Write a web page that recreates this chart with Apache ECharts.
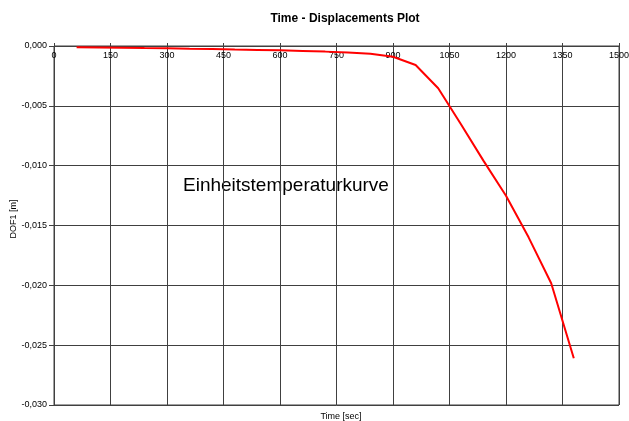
<!DOCTYPE html>
<html>
<head>
<meta charset="utf-8">
<script src="https://cdn.jsdelivr.net/npm/echarts@6/dist/echarts.min.js"></script>
<style>
html,body{margin:0;padding:0;background:#fff;}
#c{width:629px;height:421px;}
</style>
</head>
<body>
<div id="c"></div>
<script>
const times = [60,120,180,240,300,360,420,480,540,600,660,720,780,840,900,960,1020,1080,1140,1200,1260,1320,1380];
const dof1 = [-0.00011,-0.00012,-0.00014,-0.00017,-0.00019,-0.00023,-0.00026,-0.00030,-0.00033,-0.00036,-0.00041,-0.00047,-0.00054,-0.00064,-0.00090,-0.00159,-0.00353,-0.00652,-0.00958,-0.01251,-0.01599,-0.01983,-0.02610];
const titleText = 'Time - Displacements Plot';
const xName = 'Time [sec]';
const yName = 'DOF1 [m]';
const annotation = 'Einheitstemperaturkurve';

const chart = echarts.init(document.getElementById('c'), null, {renderer:'canvas'});
const font = 'Liberation Sans, Arial, sans-serif';
const gridColor = '#404040';
chart.setOption({
  backgroundColor: '#ffffff',
  animation: false,
  title: [
    {text: titleText, left: 340, top: 8, textAlign: 'center',
     textStyle: {fontFamily: font, fontSize: 12, fontWeight: 'bold', color: '#000'}},
    {text: xName, left: 336, top: 407, textAlign: 'center',
     textStyle: {fontFamily: font, fontSize: 9, fontWeight: 'normal', color: '#000'}}
  ],
  graphic: [
    {type: 'text', left: 183, top: 176, z: -10, zlevel: 0,
     style: {text: annotation, fontFamily: font, fontSize: 19, fill: '#000'}},
    {type: 'text', x: 14, y: 219, rotation: Math.PI / 2,
     style: {text: yName, fontFamily: font, fontSize: 9, fill: '#000', align: 'center', verticalAlign: 'middle'}}
  ],
  grid: {left: 54, right: 10, top: 46, bottom: 16, containLabel: false, outerBoundsMode: 'none',
         show: true, borderColor: gridColor, borderWidth: 1, backgroundColor: 'transparent'},
  xAxis: {
    type: 'value', position: 'top', min: 0, max: 1500, interval: 150,
    axisLine: {show: true, lineStyle: {color: gridColor}},
    axisTick: {show: true, inside: false, length: 3, lineStyle: {color: gridColor}},
    axisLabel: {inside: true, margin: 5, fontFamily: font, fontSize: 9, color: '#000',
      formatter: v => String(v)},
    splitLine: {show: true, lineStyle: {color: gridColor, width: 1}}
  },
  yAxis: {
    type: 'value', min: -0.030, max: 0, interval: 0.005,
    axisLine: {show: true, lineStyle: {color: gridColor}},
    axisTick: {show: true, inside: false, length: 5, lineStyle: {color: gridColor}},
    axisLabel: {margin: 7, fontFamily: font, fontSize: 9, color: '#000',
      formatter: v => (Math.abs(v) < 1e-12 ? 0 : v).toFixed(3).replace('.', ',')},
    splitLine: {show: true, lineStyle: {color: gridColor, width: 1}}
  },
  series: [{
    type: 'line', data: times.map((t, i) => [t, dof1[i]]),
    showSymbol: false, symbol: 'none',
    lineStyle: {color: '#ff0000', width: 2}, z: 5
  }]
});
</script>
</body>
</html>
